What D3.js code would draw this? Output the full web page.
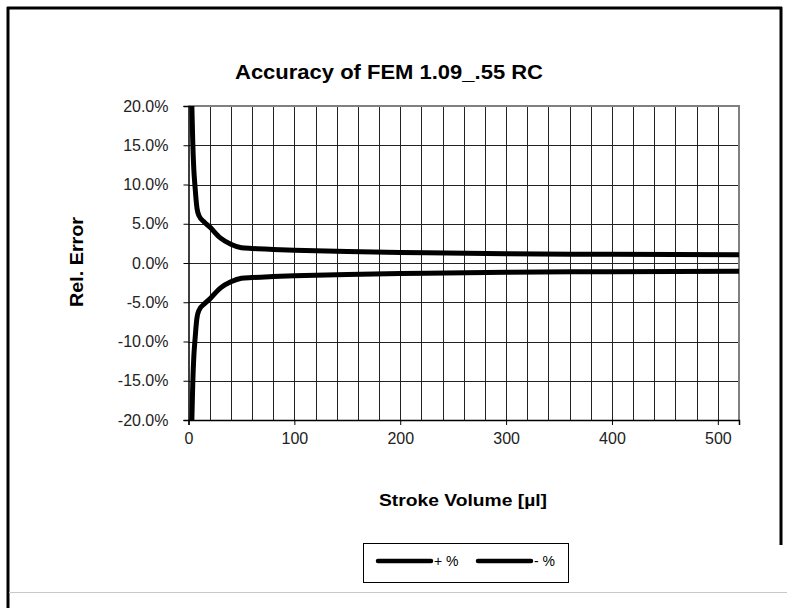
<!DOCTYPE html>
<html>
<head>
<meta charset="utf-8">
<script src="https://cdn.jsdelivr.net/npm/d3@7"></script>
<style>
  html, body { margin: 0; padding: 0; background: #fff; }
  svg { display: block; font-family: "Liberation Sans", Arial, sans-serif; }
</style>
</head>
<body>
<svg id="chart" width="801" height="608"></svg>
<script>
// ---- data ----
const volumes   = [2, 3, 4, 5, 6, 7, 8, 10, 15, 20, 30, 40, 50, 60, 80, 100, 150, 200, 300, 400, 520];
const plusPct   = [30, 21, 15.5, 12, 10, 8.3, 7.0, 6.0, 5.2, 4.6, 3.2, 2.4, 1.95, 1.85, 1.72, 1.62, 1.45, 1.35, 1.18, 1.1, 1.05];
const minusPct  = [-30, -21, -15.5, -12, -10, -8.3, -7.0, -6.0, -5.2, -4.6, -3.2, -2.4, -1.95, -1.85, -1.72, -1.62, -1.45, -1.35, -1.18, -1.1, -1.05];
const seriesNames = ["+ %", "- %"];
const yTicks = [20, 15, 10, 5, 0, -5, -10, -15, -20];
const xTicks = [0, 100, 200, 300, 400, 500];
const xGrid  = d3.range(0, 521, 20);
const title = "Accuracy of FEM 1.09_.55 RC";
const xTitle = "Stroke Volume [\u00b5l]";
const yTitle = "Rel. Error";

const svg = d3.select("#chart");

// frame
svg.append("line").attr("x1", 8).attr("x2", 8).attr("y1", 7).attr("y2", 608)
  .attr("stroke", "#000").attr("stroke-width", 3);
svg.append("line").attr("x1", 7).attr("x2", 782).attr("y1", 8).attr("y2", 8)
  .attr("stroke", "#000").attr("stroke-width", 3);
svg.append("line").attr("x1", 781).attr("x2", 781).attr("y1", 7).attr("y2", 545)
  .attr("stroke", "#000").attr("stroke-width", 3);
svg.append("line").attr("x1", 9).attr("x2", 787).attr("y1", 592.5).attr("y2", 592.5)
  .attr("stroke", "#c8c8c8").attr("stroke-width", 1);

const x = d3.scaleLinear().domain([0, 520]).range([188.5, 739]);
const y = d3.scaleLinear().domain([-20, 20]).range([420, 106]);

// grid
const g = svg.append("g");
g.selectAll("line.vg").data(xGrid.slice(1)).join("line")
  .attr("x1", d => Math.round(x(d)) + 0.5).attr("x2", d => Math.round(x(d)) + 0.5)
  .attr("y1", y(20)).attr("y2", y(-20))
  .attr("stroke", "#222").attr("stroke-width", 1);
g.selectAll("line.hg").data(yTicks).join("line")
  .attr("x1", x(0)).attr("x2", x(520))
  .attr("y1", d => Math.round(y(d)) + 0.5).attr("y2", d => Math.round(y(d)) + 0.5)
  .attr("stroke", "#222").attr("stroke-width", 1);

// plot border top/right gray
svg.append("path")
  .attr("d", `M${x(0)},${y(20)}H${x(520)}V${y(-20)}`)
  .attr("fill", "none").attr("stroke", "#808080").attr("stroke-width", 2);

// axes
const yAxis = d3.axisLeft(y).tickValues(yTicks).tickSize(5).tickPadding(10)
  .tickFormat(d => d.toFixed(1) + "%");
const ya = svg.append("g").attr("transform", `translate(${x(0)},0)`).call(yAxis);
const xAxis = d3.axisBottom(x).tickValues(xTicks).tickSize(5).tickPadding(8)
  .tickFormat(d3.format("d"));
const xa = svg.append("g").attr("transform", `translate(0,${y(-20)})`).call(xAxis);
[ya, xa].forEach(a => {
  a.select(".domain").attr("stroke", "#000").attr("stroke-width", 1.5);
  a.selectAll(".tick line").attr("stroke", "#000");
  a.selectAll("text").attr("font-size", 16).attr("fill", "#222")
    .attr("font-family", "Liberation Sans, Arial, sans-serif");
});
ya.selectAll("text").attr("dx", -5);

// curves
const clip = svg.append("clipPath").attr("id", "clip").append("rect")
  .attr("x", x(0)).attr("y", y(20)).attr("width", x(520) - x(0)).attr("height", y(-20) - y(20));
const line = d3.line().x((d, i) => x(volumes[i])).y(d => y(d)).curve(d3.curveMonotoneX);
const curves = svg.append("g").attr("clip-path", "url(#clip)");
[plusPct, minusPct].forEach(s => {
  curves.append("path").attr("d", line(s)).attr("fill", "none")
    .attr("stroke", "#000").attr("stroke-width", 5).attr("stroke-linejoin", "round");
});

// titles
svg.append("text").attr("x", 389).attr("y", 79).attr("text-anchor", "middle")
  .attr("font-weight", "bold").attr("font-size", 20)
  .attr("textLength", 308).attr("lengthAdjust", "spacingAndGlyphs").text(title);
svg.append("text").attr("x", 463).attr("y", 506).attr("text-anchor", "middle")
  .attr("font-weight", "bold").attr("font-size", 17)
  .attr("textLength", 168).attr("lengthAdjust", "spacingAndGlyphs").text(xTitle);
svg.append("text").attr("transform", "translate(83,262) rotate(-90)")
  .attr("text-anchor", "middle").attr("font-weight", "bold").attr("font-size", 18)
  .attr("textLength", 90).attr("lengthAdjust", "spacingAndGlyphs").text(yTitle);

// legend
const lg = svg.append("g");
lg.append("rect").attr("x", 363.5).attr("y", 543.5).attr("width", 205).attr("height", 39)
  .attr("fill", "#fff").attr("stroke", "#000").attr("stroke-width", 1);
const legX = [378, 478];
seriesNames.forEach((n, i) => {
  lg.append("line").attr("x1", legX[i]).attr("x2", legX[i] + 53).attr("y1", 561).attr("y2", 561)
    .attr("stroke", "#000").attr("stroke-width", 4.5).attr("stroke-linecap", "round");
  lg.append("text").attr("x", legX[i] + 56).attr("y", 566).attr("font-size", 14).text(n);
});
</script>
</body>
</html>
